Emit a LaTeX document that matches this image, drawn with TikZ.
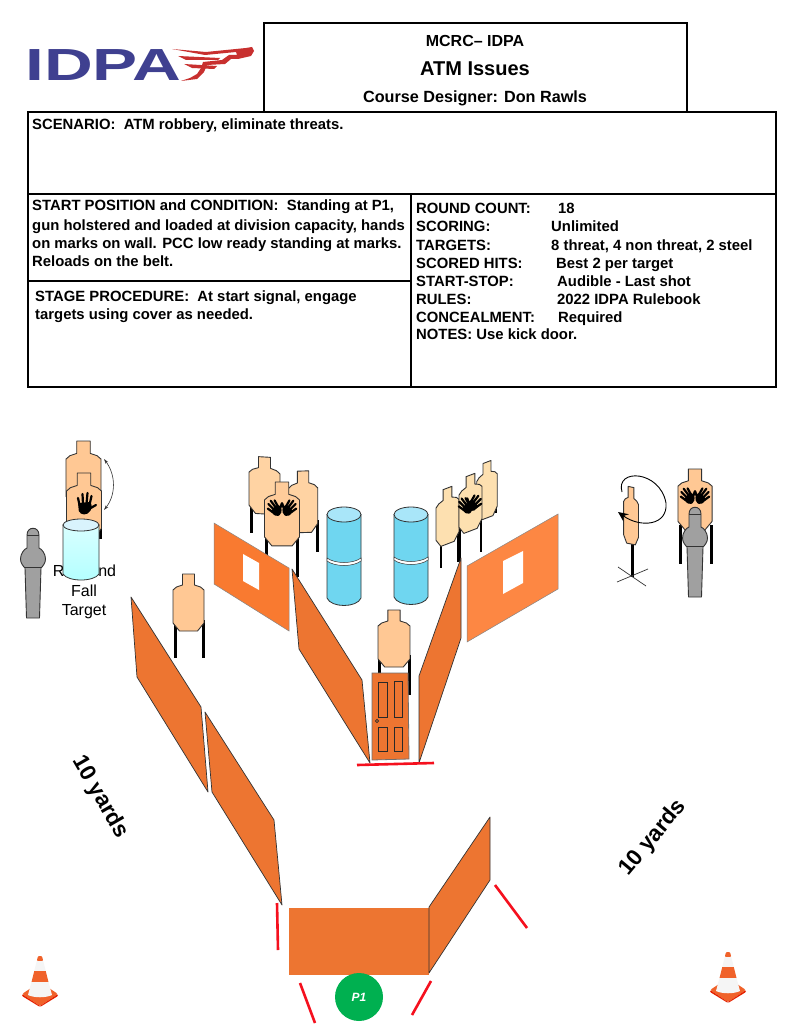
\documentclass[tikz,border=0pt]{standalone}
\usepackage{fontspec}
\setmainfont{Liberation Sans}
\usetikzlibrary{arrows.meta}
\definecolor{wallc}{HTML}{ED7531}
\definecolor{wallb}{HTML}{F97A30}
\definecolor{wallr}{HTML}{FD8743}
\definecolor{skina}{HTML}{FFC894}
\definecolor{skinb}{HTML}{FFD3A3}
\definecolor{skinc}{HTML}{FDE0B0}
\definecolor{steelc}{HTML}{A0A0A0}
\definecolor{barrelc}{HTML}{6FD6F0}
\definecolor{barrelt}{HTML}{A9E6F9}
\definecolor{idpab}{HTML}{3F4090}
\definecolor{idpar}{HTML}{C8302F}
\definecolor{redl}{HTML}{F5101E}
\definecolor{dk}{HTML}{333333}
\definecolor{pgreen}{HTML}{00B050}
\definecolor{coneo}{HTML}{F0622A}
\newcommand{\fs}[1]{\fontsize{#1}{#1}\selectfont}
\tikzset{
  frame/.style={line width=2.6pt,draw=black},
  lab/.style={anchor=base west,inner sep=0pt,font=\fs{14.85}\bfseries},
  head/.style={anchor=base,inner sep=0pt,font=\bfseries},
  wall/.style={fill=wallc,draw=dk,line width=0.7pt,line join=round},
  winw/.style={fill=white,draw=none},
  redmark/.style={draw=redl,line width=2.6pt},
  leg/.style={draw=black,line width=3pt},
  panel/.style={draw=dk!80!black,line width=0.8pt},
  barrelbody/.style={fill=barrelc,draw=dk,line width=0.8pt},
  tgt/.pic={
    \draw[fill=#1,draw=dk,line width=0.9pt,line join=round]
      (-6,0)--(6,0)--(6,11)--(12,13)--(15.5,16)--(15.5,49)--(9,57)--(-9,57)--(-15.5,49)--(-15.5,16)--(-12,13)--(-6,11)--cycle;
  },
  steel/.pic={
    \draw[fill=steelc,draw=dk,line width=0.9pt,line join=round]
      (-6,7) .. controls (-6,-2) and (6,-2) .. (6,7) -- (6,20)
      .. controls (9,21) and (12.5,26) .. (12.5,31)
      .. controls (12.5,35) and (10,38) .. (8,40)
      -- (6.5,90) -- (-6.5,90) -- (-8,40)
      .. controls (-10,38) and (-12.5,35) .. (-12.5,31)
      .. controls (-12.5,26) and (-9,21) .. (-6,20) -- cycle;
    \draw[dk,line width=0.5pt] (-6,7)--(6,7) (-8,39)--(8,39);
  },
  hand/.pic={
    \fill[black,rounded corners=2pt] (-7,-2)--(6,-3)--(7,4)--(1,10)--(-6,8)--cycle;
    \draw[black,line width=2.2pt,line cap=round]
      (-5.5,0)--(-7,-7) (-2,-1)--(-2.5,-11) (1.5,-1)--(2.5,-12) (4.5,0)--(6.5,-9) (4,4)--(11,0);
  },
  hands/.pic={
    \pic[rotate=42,scale=0.78] at (-6.5,4) {hand};
    \pic[xscale=-0.78,yscale=0.78,rotate=42] at (6.5,4) {hand};
  },
  cone/.pic={
    \fill[fill=coneo,rounded corners=2pt] (-18,38)--(0,26)--(18,38)--(0,50)--cycle;
    \fill[fill=red!70!orange!90!black,rounded corners=1pt] (-18,38)--(0,50)--(18,38)--(18,40)--(0,51)--(-18,40)--cycle;
    \fill[coneo,rounded corners=1pt] (-2,0)--(2,0)--(3.25,5)--(-3.25,5)--cycle;
    \fill[white!92!gray] (-3.25,5)--(3.25,5)--(5.75,15)--(-5.75,15)--cycle;
    \fill[coneo] (-5.75,15)--(5.75,15)--(8.5,26)--(-8.5,26)--cycle;
    \fill[white!92!gray] (-8.5,26)--(8.5,26)--(12,39)
       .. controls (6,42) and (-6,42) .. (-12,39)--cycle;
  }
}
\begin{document}
\begin{tikzpicture}[x=1pt,y=-1pt]
\useasboundingbox (0,0) rectangle (807,1024);
\fill[white] (0,0) rectangle (807,1024);

% logo
\node[anchor=base west,inner sep=0pt,text=idpab,font=\fs{45}\bfseries,xscale=1.5,transform shape] (logo) at (25,81) {IDPA};
\fill[idpar,line join=round] (172,49)--(206,52)--(246,48)--(252,47)--(254,51)--(251,56)--(238,59)--(231,59)--(225,64)--(207,65)--(204,72)--(197,79)--(181,81)--(190,78)--(197,74)--(201,68)--(203,62)--(222,60)--(229,55)--(237,55)--(236,52)--(205,55)--cycle;
\fill[idpar] (178,56)--(220,58)--(218,60)--(186,60)--cycle;
\fill[idpar] (184,64)--(217,66)--(214,69)--(192,68)--cycle;

% frames
\draw[frame] (264,112)--(264,23)--(687,23)--(687,112);
\draw[frame] (28,112) rectangle (776,387);
\draw[frame] (28,194)--(776,194);
\draw[frame] (411,194)--(411,387);
\draw[frame] (28,281)--(411,281);

% header
\node[head,font=\fs{16}\bfseries] (h1) at (475,47) {MCRC– IDPA};
\node[head,font=\fs{20}\bfseries] (h2) at (475,76) {ATM Issues};
\node[head,font=\fs{16.2}\bfseries] (h3) at (475,103) {Course Designer: Don Rawls};

% text
\node[lab] (sc) at (32,130) {SCENARIO:\ \ ATM robbery, eliminate threats.};
\node[lab] (st1) at (32,211) {START POSITION and CONDITION:\ \ Standing at P1,};
\node[lab] (st2) at (32,230) {gun holstered and loaded at division capacity, hands};
\node[lab] (st3) at (32,248) {on marks on wall. PCC low ready standing at marks.};
\node[lab] (st4) at (32,266) {Reloads on the belt.};
\node[lab] (sp1) at (35,301) {STAGE PROCEDURE:\ \ At start signal, engage};
\node[lab] (sp2) at (35,319) {targets using cover as needed.};
\node[lab] (r1) at (416,214) {ROUND COUNT:};
\node[lab] (v1) at (558,214) {18};
\node[lab] (r2) at (416,232) {SCORING:};
\node[lab] (v2) at (551,232) {Unlimited};
\node[lab] (r3) at (416,250) {TARGETS:};
\node[lab] (v3) at (551,250) {8 threat, 4 non threat, 2 steel};
\node[lab] (r4) at (416,268) {SCORED HITS:};
\node[lab] (v4) at (556,268) {Best 2 per target};
\node[lab] (r5) at (416,286) {START-STOP:};
\node[lab] (v5) at (557,286) {Audible - Last shot};
\node[lab] (r6) at (416,304) {RULES:};
\node[lab] (v6) at (557,304) {2022 IDPA Rulebook};
\node[lab] (r7) at (416,322) {CONCEALMENT:};
\node[lab] (v7) at (558,322) {Required};
\node[lab] (r8) at (416,339) {NOTES: Use kick door.};

% far left targets
\node[anchor=base,inner sep=0pt,font=\fs{16}] (rf1) at (84.5,576) {Rou\hspace{16pt}nd};
\node[anchor=base,inner sep=0pt,font=\fs{16}] (rf2) at (84,596) {Fall};
\node[anchor=base,inner sep=0pt,font=\fs{16}] (rf3) at (84,615) {Target};
\draw[leg] (100,505)--(100,539);
\pic[xscale=1.13,yscale=1.13] at (83.5,441) {tgt=skina};
\pic[xscale=1.13,yscale=1.13] at (84,473) {tgt=skina};
\pic at (85,505) {hand};
\draw[dk,line width=0.6pt,{Stealth[length=5pt,width=3pt]}-{Stealth[length=5pt,width=3pt]}] (104,459) .. controls (116,475) and (116,495) .. (104,510);
\shade[top color=white!85!cyan,bottom color=cyan!30!white,draw=dk,line width=0.8pt] (63,525) -- (63,574) .. controls (68,582) and (94,582) .. (99,574) -- (99,525) -- cycle;
\draw[fill=white!85!cyan,draw=dk,line width=0.8pt] (81,525) ellipse [x radius=18,y radius=6];
\pic at (33,528) {steel};

% left mid target
\draw[leg] (175,620)--(175,658) (203,620)--(203,658);
\pic at (188.5,574) {tgt=skina};

% left group
\draw[leg] (251,505)--(251,533);
\draw[leg] (317,520)--(317,552);
\pic[yslant=-0.06] at (264.5,457) {tgt=skinb};
\pic[yslant=0.03,yscale=1.08,xscale=0.95] at (303,471) {tgt=skinb};
\draw[leg] (266,535)--(266,556) (297,535)--(297,577);
\pic[xscale=1.13,yscale=1.12] at (282,482) {tgt=skina!60!skinb};
\pic at (282,505) {hands};

% left window wall
\draw[fill=wallb,draw=dk!60,line width=0.5pt] (214,523)--(289,568)--(289,631)--(214,584)--cycle;
\fill[winw] (243,554)--(259,563)--(259,590)--(243,581)--cycle;

% barrels
\draw[barrelbody] (327,514)--(327,598) .. controls (331,608) and (357,608) .. (361,598) --(361,514);
\draw[fill=barrelt,draw=dk,line width=0.8pt] (344,514.5) ellipse [x radius=17,y radius=7.5];
\draw[fill=white,draw=dk,line width=0.5pt] (327,558) .. controls (335,564) and (353,564) .. (361,558) -- (361,561) .. controls (353,567) and (335,567) .. (327,561) -- cycle;
\draw[barrelbody] (394,514)--(394,597) .. controls (398,607) and (424,607) .. (428,597) --(428,514);
\draw[fill=barrelt,draw=dk,line width=0.8pt] (411,514.5) ellipse [x radius=17,y radius=7.5];
\draw[fill=white,draw=dk,line width=0.5pt] (394,557) .. controls (402,563) and (420,563) .. (428,557) -- (428,560) .. controls (420,566) and (402,566) .. (394,560) -- cycle;

% right group
\draw[leg,line width=1.8pt] (441,540)--(441,568);
\draw[leg,line width=1.8pt] (481,510)--(481,552);
\draw[leg,line width=1.8pt] (496,495)--(496,513);
\draw[leg,line width=3.2pt] (459,528)--(459,562);
\pic[yslant=0.38,xscale=0.74,yscale=0.98] at (447.5,488) {tgt=skinc};
\pic[yslant=0.38,xscale=0.66,yscale=0.98] at (487,462) {tgt=skinc};
\pic[yslant=0.38,xscale=0.74,yscale=0.98] at (470.5,475) {tgt=skinc};
\pic[yslant=0.38,xscale=0.55,yscale=0.6] at (470,503) {hands};

% right window wall
\draw[fill=wallr,draw=dk!60,line width=0.5pt] (467,566)--(558,514)--(558,589)--(467,642)--cycle;
\fill[winw] (503,561)--(523,551)--(523,583)--(503,594)--cycle;

% far right: turning target
\draw[leg] (632,540)--(632,577);
\draw[dk,line width=0.7pt] (618,567)--(646,586) (617,582)--(648,569);
\pic[yslant=-0.2,xscale=0.48] at (631,487) {tgt=skina};
\draw[black,line width=0.9pt,-{Stealth[length=10pt,width=9pt]}] (622,492) .. controls (615,468) and (660,470) .. (666,503) .. controls (668,526) and (640,528) .. (618,512);

% right target and steel
\draw[leg] (680,525)--(680,564) (711,525)--(711,564);
\pic[xscale=1.1,yscale=1.07] at (695,469) {tgt=skina};
\pic at (695,493) {hands};
\pic at (695,507) {steel};

% centre target and door
\draw[leg] (379,655)--(379,676) (409,655)--(409,695);
\pic[xscale=1.03] at (394,610) {tgt=skina};
\draw[fill=wallc,draw=dk!70,line width=0.8pt] (372,673)--(408,673)--(409,759)--(372,760)--cycle;
\draw[panel] (378,682) rectangle (387,717) (394,681) rectangle (402,717) (378,727) rectangle (387,751) (394,727) rectangle (402,751);
\draw[panel] (377,721) circle [radius=1.6];

% walls
\draw[wall] (131,597)--(201,707)--(208,792)--(137,677)--cycle;
\draw[wall] (205,712)--(274,820)--(282,905)--(212,792)--cycle;
\draw[wall] (292,569)--(362,680)--(370,763)--(299,649)--cycle;
\draw[wall] (461,558)--(461,638)--(419,763)--(419,676)--cycle;
\draw[redmark] (357,765)--(434,763);

% start box
\fill[wallc] (289,908) rectangle (429,975);
\draw[wall] (429,907)--(490,817)--(490,880)--(429,973)--cycle;
\draw[redmark] (277,903)--(278,950);
\draw[redmark] (495,885)--(527,928);
\draw[redmark] (300,983)--(315,1023);
\draw[redmark] (431,981)--(412,1015);
\node[circle,fill=pgreen,minimum size=48pt,inner sep=0pt,text=white,font=\fs{12}\bfseries\itshape] (p1) at (359,997) {P1};

% distances
\node[font=\fs{22.5}\bfseries,rotate=-60,inner sep=0pt] (d1) at (100,797) {10 yards};
\node[font=\fs{22.5}\bfseries,rotate=50,inner sep=0pt] (d2) at (653,838) {10 yards};

% cones
\pic at (40,956) {cone};
\pic at (728,952) {cone};
\end{tikzpicture}
\end{document}
